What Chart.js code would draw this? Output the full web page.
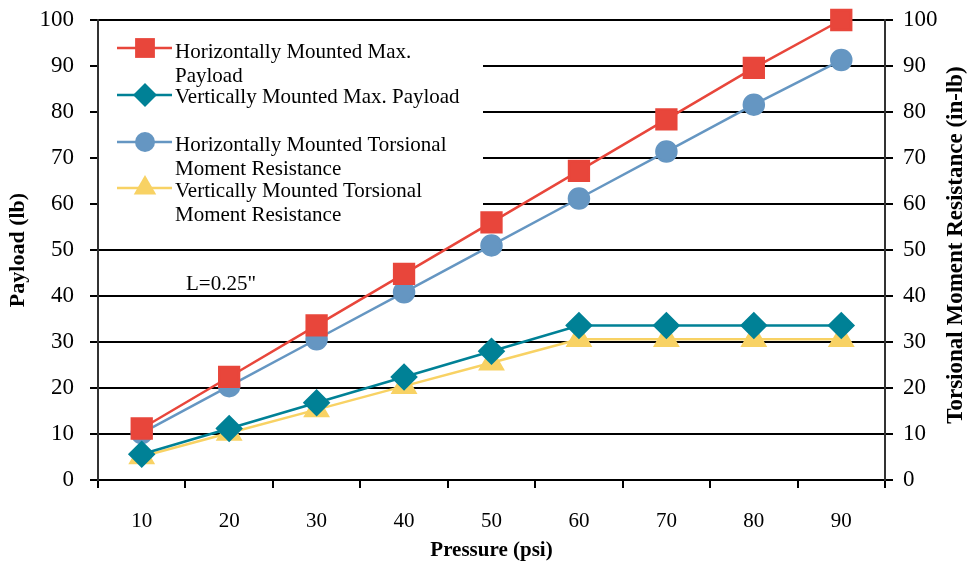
<!DOCTYPE html>
<html>
<head>
<meta charset="utf-8">
<script src="https://cdn.jsdelivr.net/npm/chart.js@4.4.1/dist/chart.umd.min.js"></script>
<style>
  html, body { margin: 0; padding: 0; background: #fff; }
  #wrap { width: 971px; height: 567px; }
</style>
</head>
<body>
<div id="wrap"><canvas id="chart" width="971" height="567"></canvas></div>
<script>
// --- data ---
const pressures = ["10", "20", "30", "40", "50", "60", "70", "80", "90"];
const horizPayload = [11.2, 22.4, 33.6, 44.8, 56, 67.2, 78.4, 89.6, 100];
const vertPayload = [5.6, 11.2, 16.8, 22.4, 28, 33.6, 33.6, 33.6, 33.6];
const horizTorsion = [10.2, 20.4, 30.6, 40.8, 51, 61.2, 71.4, 81.6, 91.3];
const vertTorsion = [5.1, 10.2, 15.3, 20.4, 25.5, 30.6, 30.6, 30.6, 30.6];
const legendLines = [
  ["Horizontally Mounted Max.", "Payload"],
  ["Vertically Mounted Max. Payload"],
  ["Horizontally Mounted Torsional", "Moment Resistance"],
  ["Vertically Mounted Torsional", "Moment Resistance"],
];
const noteText = 'L=0.25"';
const rightTitle = "Torsional Moment Resistance (in-lb)";

const serif = "'Liberation Serif', 'DejaVu Serif', serif";

// legend box: white block over the grid, then samples + text
const legendPlugin = {
  id: "boxLegend",
  beforeDatasetsDraw(chart) {
    const { ctx, chartArea } = chart;
    ctx.save();
    ctx.fillStyle = "#fff";
    ctx.fillRect(chartArea.left + 1, chartArea.top + 2, 482 - chartArea.left, 212);
    ctx.restore();
  },
  afterDraw(chart) {
    const { ctx, chartArea } = chart;
    const markerY = [48, 95, 142, 188];
    const textY = [[52, 76], [97], [145, 169], [191, 215]];
    ctx.save();
    chart.data.datasets.forEach((ds, i) => {
      ctx.strokeStyle = ds.borderColor;
      ctx.lineWidth = 2.5;
      ctx.beginPath();
      ctx.moveTo(117, markerY[i]);
      ctx.lineTo(172, markerY[i]);
      ctx.stroke();
      ctx.fillStyle = ds.pointBackgroundColor;
      ctx.strokeStyle = ds.pointBorderColor;
      Chart.helpers.drawPoint(ctx, {
        pointStyle: ds.pointStyle,
        radius: ds.pointRadius,
        rotation: 0,
        borderWidth: 0,
      }, 145, markerY[i]);
      ctx.fillStyle = "#000";
      ctx.font = "21px " + serif;
      ctx.textBaseline = "middle";
      ctx.textAlign = "left";
      legendLines[i].forEach((line, j) => {
        ctx.fillText(line, 175, textY[i][j]);
      });
    });
    // annotation
    ctx.font = "21px " + serif;
    ctx.textBaseline = "middle";
    ctx.fillText(noteText, 186, 284);

    // right axis title reads bottom-to-top like the left one
    ctx.translate(956, (chartArea.top + chartArea.bottom) / 2 - 5);
    ctx.rotate(-Math.PI / 2);
    ctx.font = "bold 23px " + serif;
    ctx.textAlign = "center";
    ctx.fillText(rightTitle, 0, 0);
    ctx.restore();
  },
};

const ctx = document.getElementById("chart").getContext("2d");

new Chart(ctx, {
  type: "line",
  data: {
    labels: pressures,
    datasets: [
      {
        label: legendLines[0].join(" "),
        data: horizPayload,
        yAxisID: "y",
        borderColor: "#E8463B",
        pointBackgroundColor: "#E8463B",
        pointBorderColor: "#E8463B",
        pointStyle: "rect",
        pointRadius: 14,
        borderWidth: 2.5,
        clip: false,
      },
      {
        label: legendLines[1].join(" "),
        data: vertPayload,
        yAxisID: "y",
        borderColor: "#008196",
        pointBackgroundColor: "#008196",
        pointBorderColor: "#008196",
        pointStyle: "rectRot",
        pointRadius: 12,
        borderWidth: 2.5,
        clip: false,
      },
      {
        label: legendLines[2].join(" "),
        data: horizTorsion,
        yAxisID: "y2",
        borderColor: "#6596C2",
        pointBackgroundColor: "#6596C2",
        pointBorderColor: "#6596C2",
        pointStyle: "circle",
        pointRadius: 10,
        borderWidth: 2.5,
        clip: false,
      },
      {
        label: legendLines[3].join(" "),
        data: vertTorsion,
        yAxisID: "y2",
        borderColor: "#F8D264",
        pointBackgroundColor: "#F8D264",
        pointBorderColor: "#F8D264",
        pointStyle: "triangle",
        pointRadius: 13,
        borderWidth: 2.5,
        clip: false,
      },
    ],
  },
  options: {
    responsive: false,
    animation: false,
    layout: { padding: { top: 20, left: 0, right: 0, bottom: 0 } },
    elements: { line: { tension: 0 }, point: { borderWidth: 0 } },
    plugins: {
      legend: { display: false },
      tooltip: { enabled: false },
    },
    scales: {
      x: {
        offset: true,
        afterFit: (s) => { s.height = 87; },
        grid: {
          offset: true,
          drawOnChartArea: false,
          color: "#000",
          lineWidth: 2,
          tickLength: 8,
        },
        border: { color: "#000", width: 2 },
        ticks: {
          color: "#000",
          padding: 21,
          font: { family: serif, size: 21 },
        },
        title: {
          display: true,
          text: "Pressure (psi)",
          color: "#000",
          font: { family: serif, size: 21, weight: "bold" },
          padding: { top: 0, bottom: 4 },
        },
      },
      y: {
        position: "left",
        min: 0,
        max: 100,
        afterFit: (s) => { s.width = 98; },
        ticks: {
          stepSize: 10,
          color: "#000",
          padding: 16,
          font: { family: serif, size: 23, lineHeight: 0.3 },
        },
        grid: { color: "#000", lineWidth: 2, tickLength: 8 },
        border: { color: "#333", width: 2 },
        title: {
          display: true,
          text: "Payload (lb)",
          color: "#000",
          font: { family: serif, size: 22, weight: "bold" },
          padding: { top: 5, bottom: 0 },
        },
      },
      y2: {
        position: "right",
        min: 0,
        max: 100,
        afterFit: (s) => { s.width = 86; },
        ticks: {
          stepSize: 10,
          color: "#000",
          padding: 10,
          font: { family: serif, size: 23, lineHeight: 0.3 },
        },
        grid: { drawOnChartArea: false, color: "#000", lineWidth: 2, tickLength: 8 },
        border: { color: "#333", width: 2 },
      },
    },
  },
  plugins: [legendPlugin],
});
</script>
</body>
</html>
